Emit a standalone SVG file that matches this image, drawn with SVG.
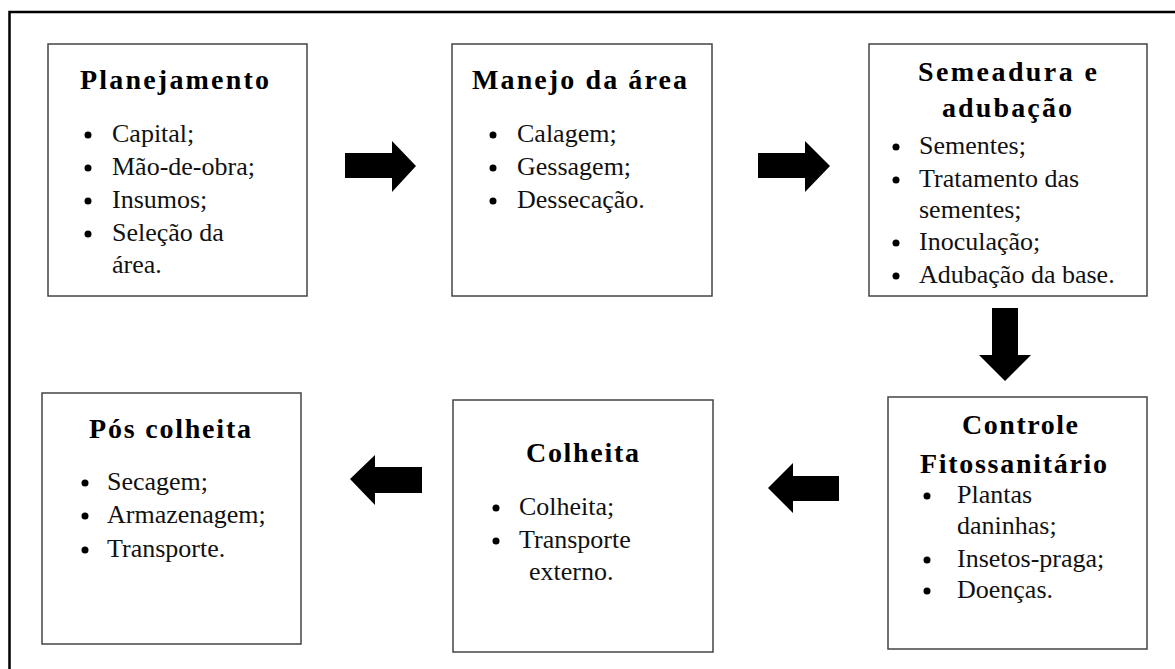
<svg xmlns="http://www.w3.org/2000/svg" width="1175" height="669" viewBox="0 0 1175 669">
<defs>
<style>
.box{fill:#fff;stroke:#444;stroke-width:1.5}
.t{font-family:"Liberation Serif","Times New Roman",Times,Tinos,"Noto Serif","DejaVu Serif","Nimbus Roman",serif;font-weight:bold;font-size:28px;fill:#000}
.b{font-family:"Liberation Serif","Times New Roman",Times,Tinos,"Noto Serif","DejaVu Serif","Nimbus Roman",serif;font-size:26px;fill:#111}
.dot{fill:#000}
.arr{fill:#000}
</style>
</defs>
<rect width="1175" height="669" fill="#fff"/>
<path d="M9.5 669 V12 H1175" fill="none" stroke="#000" stroke-width="2.5"/>
<g id="planejamento">
<rect class="box" x="48" y="44" width="259" height="252"/>
<text class="t" x="80" y="89" textLength="189" lengthAdjust="spacing">Planejamento</text>
<circle class="dot" cx="88" cy="135" r="3.5"/><text class="b" x="112" y="142">Capital;</text>
<circle class="dot" cx="88" cy="168" r="3.5"/><text class="b" x="112" y="175">Mão-de-obra;</text>
<circle class="dot" cx="88" cy="201" r="3.5"/><text class="b" x="112" y="208">Insumos;</text>
<circle class="dot" cx="88" cy="234" r="3.5"/><text class="b" x="112" y="241">Seleção da</text>
<text class="b" x="112" y="273">área.</text>
</g>
<g id="manejo">
<rect class="box" x="452" y="44" width="260" height="252"/>
<text class="t" x="472" y="89" textLength="215" lengthAdjust="spacing">Manejo da área</text>
<circle class="dot" cx="493" cy="135" r="3.5"/><text class="b" x="517" y="142">Calagem;</text>
<circle class="dot" cx="493" cy="168" r="3.5"/><text class="b" x="517" y="175">Gessagem;</text>
<circle class="dot" cx="493" cy="201" r="3.5"/><text class="b" x="517" y="208">Dessecação.</text>
</g>
<g id="semeadura">
<rect class="box" x="869" y="44" width="278" height="252"/>
<text class="t" x="918" y="81" textLength="179" lengthAdjust="spacing">Semeadura e</text>
<text class="t" x="942" y="117" textLength="130" lengthAdjust="spacing">adubação</text>
<circle class="dot" cx="896" cy="147" r="3.5"/><text class="b" x="919" y="154">Sementes;</text>
<circle class="dot" cx="896" cy="180" r="3.5"/><text class="b" x="919" y="187">Tratamento das</text>
<text class="b" x="919" y="218">sementes;</text>
<circle class="dot" cx="896" cy="243" r="3.5"/><text class="b" x="919" y="250">Inoculação;</text>
<circle class="dot" cx="896" cy="276" r="3.5"/><text class="b" x="919" y="283">Adubação da base.</text>
</g>
<g id="controle">
<rect class="box" x="888" y="397" width="259" height="252"/>
<text class="t" x="962" y="434" textLength="116" lengthAdjust="spacing">Controle</text>
<text class="t" x="920" y="473" textLength="187" lengthAdjust="spacing">Fitossanitário</text>
<circle class="dot" cx="927" cy="496" r="3.5"/><text class="b" x="957" y="503">Plantas</text>
<text class="b" x="957" y="534">daninhas;</text>
<circle class="dot" cx="927" cy="560" r="3.5"/><text class="b" x="957" y="567">Insetos-praga;</text>
<circle class="dot" cx="927" cy="591" r="3.5"/><text class="b" x="957" y="598">Doenças.</text>
</g>
<g id="colheita">
<rect class="box" x="453" y="400" width="260" height="252"/>
<text class="t" x="526" y="462" textLength="113" lengthAdjust="spacing">Colheita</text>
<circle class="dot" cx="496" cy="508" r="3.5"/><text class="b" x="519" y="515">Colheita;</text>
<circle class="dot" cx="496" cy="541" r="3.5"/><text class="b" x="519" y="548">Transporte</text>
<text class="b" x="529" y="580">externo.</text>
</g>
<g id="pos-colheita">
<rect class="box" x="42" y="393" width="259" height="251"/>
<text class="t" x="89" y="438" textLength="162" lengthAdjust="spacing">Pós colheita</text>
<circle class="dot" cx="85" cy="483" r="3.5"/><text class="b" x="107" y="490">Secagem;</text>
<circle class="dot" cx="85" cy="516" r="3.5"/><text class="b" x="107" y="523">Armazenagem;</text>
<circle class="dot" cx="85" cy="550" r="3.5"/><text class="b" x="107" y="557">Transporte.</text>
</g>
<g id="connectors">
<polygon class="arr" points="345,153 392,153 392,141 416,166 392,192 392,178 345,178"/>
<polygon class="arr" points="758,153 805,153 805,141 830,166 805,192 805,178 758,178"/>
<polygon class="arr" points="992,308 1018,308 1018,355 1031,355 1005,381 979,355 992,355"/>
<polygon class="arr" points="839,476 793,476 793,463 768,488 793,513 793,501 839,501"/>
<polygon class="arr" points="422,467 375,467 375,455 350,479 375,505 375,493 422,493"/>
</g>
</svg>
